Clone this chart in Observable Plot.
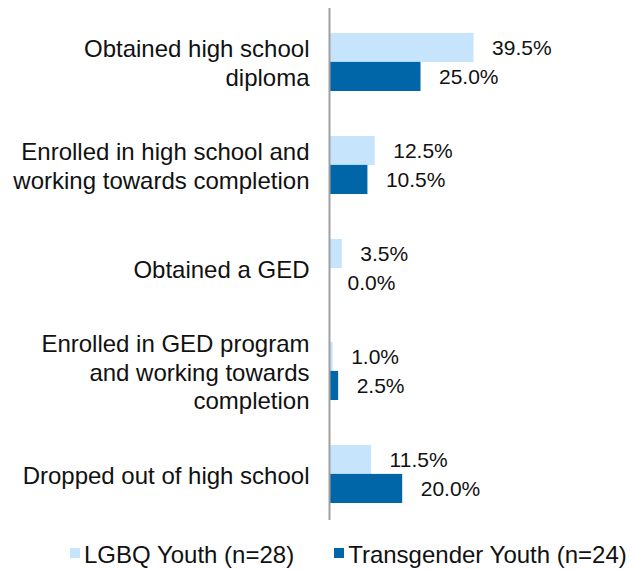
<!DOCTYPE html>
<html>
<head>
<meta charset="utf-8">
<script src="https://cdn.jsdelivr.net/npm/d3@7"></script>
<script src="https://cdn.jsdelivr.net/npm/@observablehq/plot@0.6"></script>
<style>
  body { margin: 0; background: #fff; font-family: "Liberation Sans", Arial, Helvetica, sans-serif; }
  #legend { display: flex; align-items: center; font-size: 24px; color: #111; padding-top: 6px; white-space: nowrap; }
  .item { display: flex; align-items: center; }
  .sw { width: 10px; height: 10px; margin-right: 4px; margin-top: -4px; flex: none; }
</style>
</head>
<body>
<div id="chart"></div>
<div id="legend"></div>
<script>
const categories = [
  "Obtained high school\ndiploma",
  "Enrolled in high school and\nworking towards completion",
  "Obtained a GED",
  "Enrolled in GED program\nand working towards\ncompletion",
  "Dropped out of high school"
];
const seriesNames = ["LGBQ Youth (n=28)", "Transgender Youth (n=24)"];
const lgbq = [39.5, 12.5, 3.5, 1.0, 11.5];
const trans = [25.0, 10.5, 0.0, 2.5, 20.0];
const colors = ["#c6e4fc", "#0066a8"];

const lgbqData = categories.map((c, i) => ({category: c, value: lgbq[i]}));
const transData = categories.map((c, i) => ({category: c, value: trans[i]}));
const fmt = v => v.toFixed(1) + "%";

const chart = Plot.plot({
  width: 634,
  height: 535,
  marginLeft: 329,
  marginRight: 122,
  marginTop: 8,
  marginBottom: 15,
  style: {fontFamily: "'Liberation Sans', Arial, Helvetica, sans-serif", fontSize: "21px", color: "#111"},
  x: {domain: [0, 50], axis: null},
  y: {domain: categories, paddingInner: 0.44, paddingOuter: 0.2, align: 0.585, label: null},
  marks: [
    Plot.barX(lgbqData, {x: "value", y: "category", fill: colors[0], insetBottom: 28.9, insetLeft: 1}),
    Plot.barX(transData, {x: "value", y: "category", fill: colors[1], insetTop: 28.9, insetLeft: 1}),
    Plot.text(lgbqData, {x: "value", y: "category", text: d => fmt(d.value), dx: 18, dy: -14.5, textAnchor: "start", fontSize: 21, fill: "#111"}),
    Plot.text(transData, {x: "value", y: "category", text: d => fmt(d.value), dx: 18, dy: 14.5, textAnchor: "start", fontSize: 21, fill: "#111"}),
    Plot.axisY({tickSize: 0, tickPadding: 20, fontSize: 24, lineHeight: 1.17, fill: "#111", label: null}),
    Plot.ruleX([0], {stroke: "#a0a0a0", strokeWidth: 2})
  ]
});
document.getElementById("chart").appendChild(chart);

const legend = document.getElementById("legend");
const offsets = ["70px", "40px"];
seriesNames.forEach((name, i) => {
  const item = document.createElement("div");
  item.className = "item";
  item.style.marginLeft = offsets[i];
  const sw = document.createElement("span");
  sw.className = "sw";
  sw.style.background = colors[i];
  const t = document.createElement("span");
  t.textContent = name;
  item.appendChild(sw);
  item.appendChild(t);
  legend.appendChild(item);
});
</script>
</body>
</html>
